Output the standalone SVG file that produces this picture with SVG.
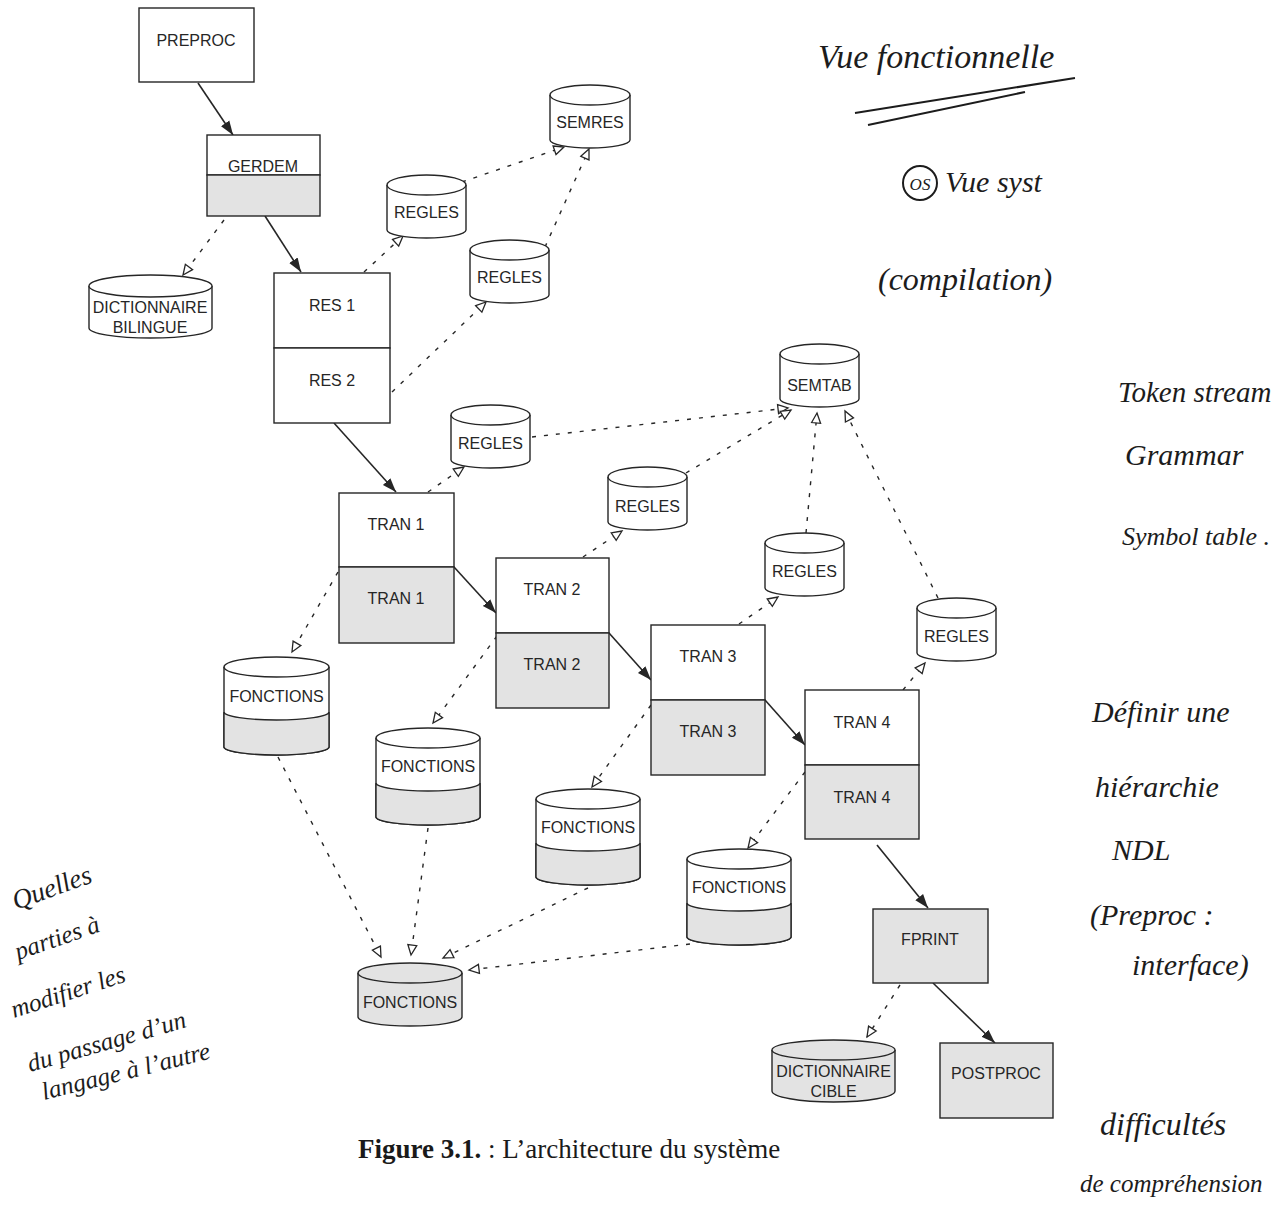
<svg xmlns="http://www.w3.org/2000/svg" width="1283" height="1214" viewBox="0 0 1283 1214">
  <style>
    .box { fill: #ffffff; stroke: #262626; stroke-width: 1.4; }
    .grey { fill: #e3e3e3; stroke: #262626; stroke-width: 1.4; }
    .line { fill: none; stroke: #262626; stroke-width: 1.4; }
    .lbl { font-family: "Liberation Sans", Arial, sans-serif; font-size: 16px; fill: #262626; text-anchor: middle; }
    .solid { fill: none; stroke: #262626; stroke-width: 1.6; marker-end: url(#arr); }
    .dash { fill: none; stroke: #262626; stroke-width: 1.4; stroke-dasharray: 4 8; marker-end: url(#tri); }
    .hand { font-family: "Liberation Serif", "DejaVu Serif", serif; font-style: italic; fill: #1c1c1c; }
    .caption { font-family: "Liberation Serif", "Times New Roman", serif; font-size: 27px; fill: #1a1a1a; }
  </style>
  <defs>
    <marker id="arr" markerUnits="userSpaceOnUse" markerWidth="16" markerHeight="12" refX="14" refY="5.5" orient="auto">
      <path d="M0,0.5 L14,5.5 L0,10.5 z" fill="#262626"/>
    </marker>
    <marker id="tri" markerUnits="userSpaceOnUse" markerWidth="14" markerHeight="13" refX="11.5" refY="6" orient="auto">
      <path d="M1.5,1.5 L11.5,6 L1.5,10.5 z" fill="#ffffff" stroke="#262626" stroke-width="1.3"/>
    </marker>
  </defs>

  <rect width="1283" height="1214" fill="#ffffff"/>

  <!-- connectors -->
  <g id="connectors">
    <!-- control flow -->
    <line class="solid" x1="198" y1="83" x2="233" y2="135"/>
    <line class="solid" x1="265" y1="216" x2="301" y2="272"/>
    <line class="solid" x1="334" y1="423" x2="396" y2="492"/>
    <line class="solid" x1="454" y1="567" x2="496" y2="613"/>
    <line class="solid" x1="609" y1="633" x2="651" y2="680"/>
    <line class="solid" x1="765" y1="700" x2="805" y2="745"/>
    <line class="solid" x1="877" y1="845" x2="928" y2="908"/>
    <line class="solid" x1="933" y1="983" x2="995" y2="1043"/>
    <!-- data access -->
    <line class="dash" x1="224" y1="220" x2="183" y2="275"/>
    <line class="dash" x1="364" y1="272" x2="403" y2="236"/>
    <line class="dash" x1="462" y1="182" x2="564" y2="147"/>
    <line class="dash" x1="392" y1="392" x2="486" y2="302"/>
    <line class="dash" x1="545" y1="247" x2="589" y2="149"/>
    <line class="dash" x1="428" y1="492" x2="464" y2="467"/>
    <line class="dash" x1="532" y1="437" x2="788" y2="408"/>
    <line class="dash" x1="583" y1="557" x2="622" y2="531"/>
    <line class="dash" x1="686" y1="473" x2="791" y2="410"/>
    <line class="dash" x1="739" y1="624" x2="778" y2="597"/>
    <line class="dash" x1="806" y1="533" x2="817" y2="413"/>
    <line class="dash" x1="938" y1="598" x2="845" y2="411"/>
    <line class="dash" x1="903" y1="690" x2="925" y2="663"/>
    <line class="dash" x1="338" y1="572" x2="292" y2="652"/>
    <line class="dash" x1="497" y1="636" x2="433" y2="723"/>
    <line class="dash" x1="651" y1="705" x2="592" y2="787"/>
    <line class="dash" x1="805" y1="772" x2="748" y2="848"/>
    <line class="dash" x1="278" y1="757" x2="381" y2="957"/>
    <line class="dash" x1="428" y1="828" x2="411" y2="955"/>
    <line class="dash" x1="588" y1="888" x2="443" y2="958"/>
    <line class="dash" x1="690" y1="944" x2="469" y2="970"/>
    <line class="dash" x1="900" y1="985" x2="867" y2="1037"/>
  </g>

  <!-- processing modules -->
  <g id="preproc">
    <rect class="box" x="139" y="8" width="115" height="74"/>
    <text class="lbl" x="196" y="46">PREPROC</text>
  </g>
  <g id="gerdem">
    <rect class="box" x="207" y="135" width="113" height="40"/>
    <rect class="grey" x="207" y="175" width="113" height="41"/>
    <text class="lbl" x="263" y="172">GERDEM</text>
  </g>
  <g id="res">
    <rect class="box" x="274" y="273" width="116" height="75"/>
    <rect class="box" x="274" y="348" width="116" height="75"/>
    <text class="lbl" x="332" y="311">RES 1</text>
    <text class="lbl" x="332" y="386">RES 2</text>
  </g>
  <g id="tran1">
    <rect class="box" x="339" y="493" width="115" height="74"/>
    <rect class="grey" x="339" y="567" width="115" height="76"/>
    <text class="lbl" x="396" y="530">TRAN 1</text>
    <text class="lbl" x="396" y="604">TRAN 1</text>
  </g>
  <g id="tran2">
    <rect class="box" x="496" y="558" width="113" height="75"/>
    <rect class="grey" x="496" y="633" width="113" height="75"/>
    <text class="lbl" x="552" y="595">TRAN 2</text>
    <text class="lbl" x="552" y="670">TRAN 2</text>
  </g>
  <g id="tran3">
    <rect class="box" x="651" y="625" width="114" height="75"/>
    <rect class="grey" x="651" y="700" width="114" height="75"/>
    <text class="lbl" x="708" y="662">TRAN 3</text>
    <text class="lbl" x="708" y="737">TRAN 3</text>
  </g>
  <g id="tran4">
    <rect class="box" x="805" y="690" width="114" height="75"/>
    <rect class="grey" x="805" y="765" width="114" height="74"/>
    <text class="lbl" x="862" y="728">TRAN 4</text>
    <text class="lbl" x="862" y="803">TRAN 4</text>
  </g>
  <g id="fprint">
    <rect class="grey" x="873" y="909" width="115" height="74"/>
    <text class="lbl" x="930" y="945">FPRINT</text>
  </g>
  <g id="postproc">
    <rect class="grey" x="940" y="1043" width="113" height="75"/>
    <text class="lbl" x="996" y="1079">POSTPROC</text>
  </g>

  <!-- data stores -->
  <g id="dict-bilingue">
    <path class="box" d="M89,286 V328 A61.5,10 0 0 0 212,328 V286"/>
    <ellipse class="box" cx="150.5" cy="286" rx="61.5" ry="11"/>
    <text class="lbl" x="150" y="313">DICTIONNAIRE</text>
    <text class="lbl" x="150" y="333">BILINGUE</text>
  </g>
  <g id="semres">
    <path class="box" d="M550,95 V140 A40,8 0 0 0 630,140 V95"/>
    <ellipse class="box" cx="590" cy="95" rx="40" ry="10"/>
    <text class="lbl" x="590" y="128">SEMRES</text>
  </g>
  <g id="regles-1">
    <path class="box" d="M387,185 V230 A39.5,8 0 0 0 466,230 V185"/>
    <ellipse class="box" cx="426.5" cy="185" rx="39.5" ry="10"/>
    <text class="lbl" x="426.5" y="218">REGLES</text>
  </g>
  <g id="regles-2">
    <path class="box" d="M470,250 V295 A39.5,8 0 0 0 549,295 V250"/>
    <ellipse class="box" cx="509.5" cy="250" rx="39.5" ry="10"/>
    <text class="lbl" x="509.5" y="283">REGLES</text>
  </g>
  <g id="semtab">
    <path class="box" d="M780,354 V399 A39.5,8 0 0 0 859,399 V354"/>
    <ellipse class="box" cx="819.5" cy="354" rx="39.5" ry="10"/>
    <text class="lbl" x="819.5" y="391">SEMTAB</text>
  </g>
  <g id="regles-3">
    <path class="box" d="M451,415 V460 A39.5,8 0 0 0 530,460 V415"/>
    <ellipse class="box" cx="490.5" cy="415" rx="39.5" ry="10"/>
    <text class="lbl" x="490.5" y="449">REGLES</text>
  </g>
  <g id="regles-4">
    <path class="box" d="M608,477 V522 A39.5,8 0 0 0 687,522 V477"/>
    <ellipse class="box" cx="647.5" cy="477" rx="39.5" ry="10"/>
    <text class="lbl" x="647.5" y="512">REGLES</text>
  </g>
  <g id="regles-5">
    <path class="box" d="M765,543 V588 A39.5,8 0 0 0 844,588 V543"/>
    <ellipse class="box" cx="804.5" cy="543" rx="39.5" ry="10"/>
    <text class="lbl" x="804.5" y="577">REGLES</text>
  </g>
  <g id="regles-6">
    <path class="box" d="M917,608 V653 A39.5,8 0 0 0 996,653 V608"/>
    <ellipse class="box" cx="956.5" cy="608" rx="39.5" ry="10"/>
    <text class="lbl" x="956.5" y="642">REGLES</text>
  </g>
  <g id="fonctions-1">
    <path class="box" d="M224,667 V747 A52.5,8 0 0 0 329,747 V667"/>
    <path class="grey" d="M224,712 A52.5,8 0 0 0 329,712 V747 A52.5,8 0 0 1 224,747 Z"/>
    <ellipse class="box" cx="276.5" cy="667" rx="52.5" ry="10"/>
    <text class="lbl" x="276.5" y="702">FONCTIONS</text>
  </g>
  <g id="fonctions-2">
    <path class="box" d="M376,738 V817 A52,8 0 0 0 480,817 V738"/>
    <path class="grey" d="M376,783 A52,8 0 0 0 480,783 V817 A52,8 0 0 1 376,817 Z"/>
    <ellipse class="box" cx="428" cy="738" rx="52" ry="10"/>
    <text class="lbl" x="428" y="772">FONCTIONS</text>
  </g>
  <g id="fonctions-3">
    <path class="box" d="M536,799 V877 A52,8 0 0 0 640,877 V799"/>
    <path class="grey" d="M536,843 A52,8 0 0 0 640,843 V877 A52,8 0 0 1 536,877 Z"/>
    <ellipse class="box" cx="588" cy="799" rx="52" ry="10"/>
    <text class="lbl" x="588" y="833">FONCTIONS</text>
  </g>
  <g id="fonctions-4">
    <path class="box" d="M687,859 V937 A52,8 0 0 0 791,937 V859"/>
    <path class="grey" d="M687,903 A52,8 0 0 0 791,903 V937 A52,8 0 0 1 687,937 Z"/>
    <ellipse class="box" cx="739" cy="859" rx="52" ry="10"/>
    <text class="lbl" x="739" y="893">FONCTIONS</text>
  </g>
  <g id="fonctions-final">
    <path class="grey" d="M358,973 V1017 A52,9 0 0 0 462,1017 V973"/>
    <ellipse class="grey" cx="410" cy="973" rx="52" ry="10"/>
    <text class="lbl" x="410" y="1008">FONCTIONS</text>
  </g>
  <g id="dict-cible">
    <path class="grey" d="M772,1050 V1091 A61.5,11 0 0 0 895,1091 V1050"/>
    <ellipse class="grey" cx="833.5" cy="1050" rx="61.5" ry="10"/>
    <text class="lbl" x="833.5" y="1077">DICTIONNAIRE</text>
    <text class="lbl" x="833.5" y="1097">CIBLE</text>
  </g>

  <!-- caption -->
  <text class="caption" x="358" y="1158"><tspan font-weight="bold">Figure 3.1.</tspan> : L’architecture du système</text>

  <!-- handwritten margin notes -->
  <g id="notes">
    <text class="hand" x="818" y="68" font-size="34">Vue fonctionnelle</text>
    <path d="M855,113 L1075,78 M868,125 L1025,92" fill="none" stroke="#1c1c1c" stroke-width="2"/>
    <ellipse cx="920" cy="183" rx="17" ry="17" fill="none" stroke="#1c1c1c" stroke-width="2"/>
    <text class="hand" x="920" y="190" font-size="17" text-anchor="middle">OS</text>
    <text class="hand" x="945" y="192" font-size="30">Vue syst</text>
    <text class="hand" x="878" y="290" font-size="32">(compilation)</text>
    <text class="hand" x="1118" y="402" font-size="29">Token stream</text>
    <text class="hand" x="1125" y="465" font-size="30">Grammar</text>
    <text class="hand" x="1122" y="545" font-size="26">Symbol table .</text>
    <text class="hand" x="1092" y="722" font-size="30">Définir une</text>
    <text class="hand" x="1095" y="797" font-size="30">hiérarchie</text>
    <text class="hand" x="1112" y="860" font-size="30">NDL</text>
    <text class="hand" x="1090" y="925" font-size="30">(Preproc :</text>
    <text class="hand" x="1132" y="975" font-size="30">interface)</text>
    <text class="hand" x="1100" y="1135" font-size="32">difficultés</text>
    <text class="hand" x="1080" y="1192" font-size="25">de compréhension</text>
    <text class="hand" font-size="27" transform="translate(16,910) rotate(-20)">Quelles</text>
    <text class="hand" font-size="25" transform="translate(18,960) rotate(-19)">parties à</text>
    <text class="hand" font-size="25" transform="translate(14,1018) rotate(-18)">modifier les</text>
    <text class="hand" font-size="25" transform="translate(30,1072) rotate(-16)">du passage d’un</text>
    <text class="hand" font-size="25" transform="translate(44,1100) rotate(-14)">langage à l’autre</text>
  </g>
</svg>
